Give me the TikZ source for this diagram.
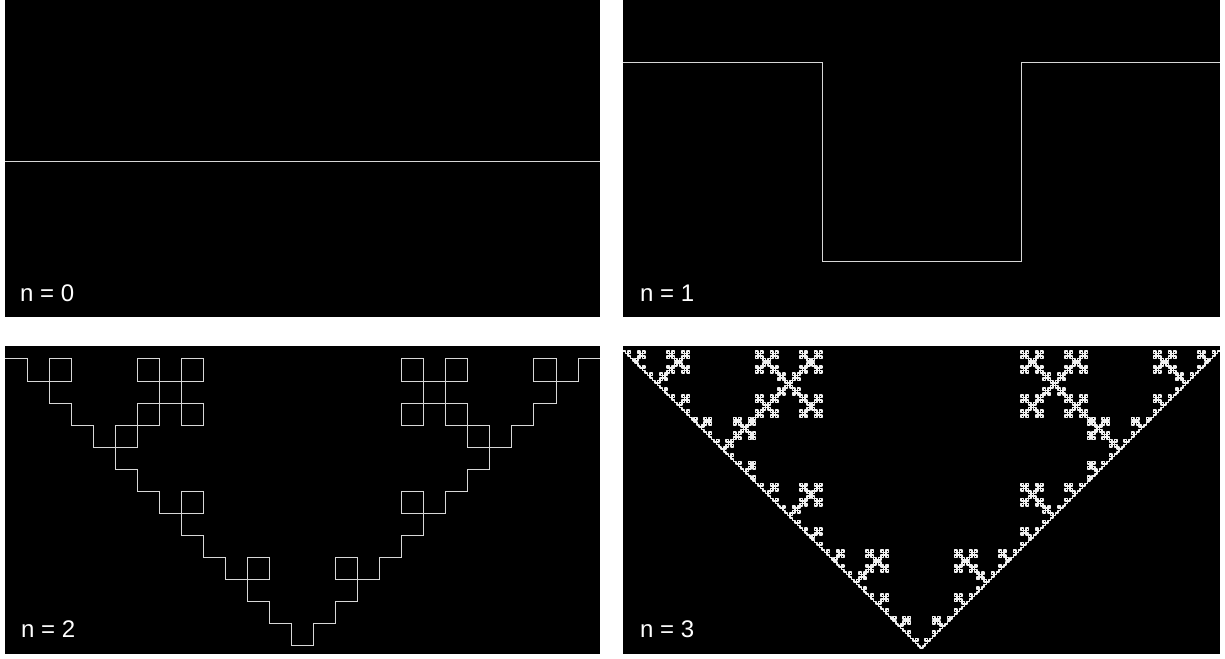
\documentclass[tikz,border=0pt]{standalone}
\usepackage{fontspec}
\setsansfont{Liberation Sans}
\usetikzlibrary{lindenmayersystems}

\definecolor{curvegray}{RGB}{215,215,215}

% square-wave generator: each segment -> _|^|_ turned downwards
\pgfdeclarelindenmayersystem{quadkoch}{
  \rule{F -> F-F+F+F-F}
}

\begin{document}
\begin{tikzpicture}[
  x=1pt, y=1pt,
  panel/.style={fill=black},
  curve/.style={draw=curvegray, line width=1pt},
  fine/.style={draw=white!94!black, line width=1.6pt, line join=round},
  lbl/.style={anchor=base west, inner sep=0pt, text=white,
              font=\sffamily\fontsize{24}{24}\selectfont},
]
\useasboundingbox (0,0) rectangle (1225,658);
\fill[white] (0,0) rectangle (1225,658);

% four panels
\fill[panel] (5,341) rectangle (600,658);
\fill[panel] (623,341) rectangle (1220,658);
\fill[panel] (5,4) rectangle (600,312);
\fill[panel] (623,4) rectangle (1220,312);

% n = 0
\draw[curve] (5,496) -- (600,496);

% n = 1
\begin{scope}[shift={(623,595)}]
  \draw[curve, l-system={quadkoch, axiom=F, order=1, step=199pt, angle=90}]
    (0,0) lindenmayer system;
\end{scope}

% n = 2
\begin{scope}[shift={(5,299)}]
  \draw[curve, l-system={quadkoch, axiom=F, order=3, step=22.04pt, angle=90}]
    (0,0) lindenmayer system;
\end{scope}

% n = 3
\begin{scope}[shift={(623,307)}]
  \draw[fine, l-system={quadkoch, axiom=F, order=5, step=2.4568pt, angle=90}]
    (0,0) lindenmayer system;
\end{scope}

\node[lbl] (lab0) at (20,356) {n = 0};
\node[lbl] (lab1) at (640,356) {n = 1};
\node[lbl] (lab2) at (21,20) {n = 2};
\node[lbl] (lab3) at (640,20) {n = 3};
\end{tikzpicture}
\end{document}
